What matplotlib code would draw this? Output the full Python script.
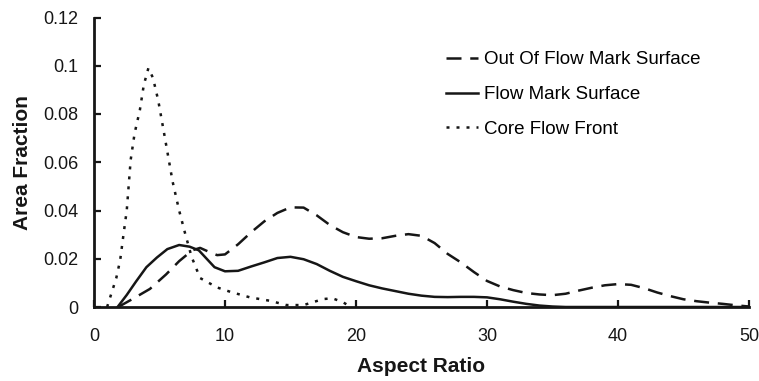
import matplotlib
matplotlib.use("Agg")
import matplotlib.pyplot as plt

plt.rcParams['font.family'] = ['Liberation Sans', 'DejaVu Sans']

# Out Of Flow Mark Surface (dashed)
out_x = [1.85, 3, 4.27, 5.5, 6.5, 7.5, 8.1, 8.8, 9.4, 10, 11, 12, 13, 14, 15, 16, 17, 18, 19,
         20, 21, 22, 23, 24, 25, 26, 27, 28, 29, 30, 31, 32, 33, 34, 35, 36, 37, 38, 39, 40,
         41, 42, 43, 44, 45, 46, 47, 48, 49, 50]
out_y = [0, 0.0035, 0.0075, 0.0135, 0.019, 0.0235, 0.0245, 0.0228, 0.0215, 0.0218, 0.026,
         0.031, 0.0355, 0.039, 0.0413, 0.0412, 0.038, 0.034, 0.031, 0.029, 0.0283, 0.0285,
         0.0295, 0.0302, 0.0295, 0.0265, 0.022, 0.0185, 0.0145, 0.0108, 0.0085, 0.007,
         0.0058, 0.0052, 0.0049, 0.0055, 0.0068, 0.008, 0.009, 0.0095, 0.0092, 0.0078,
         0.006, 0.0045, 0.0032, 0.0024, 0.0018, 0.0013, 0.0007, 0.0002]

# Flow Mark Surface (solid)
flow_x = [1.8, 2.5, 3.2, 4.0, 4.8, 5.6, 6.5, 7.3, 8.0, 8.6, 9.2, 10, 11, 12, 13, 14, 15, 16,
          17, 18, 19, 20, 21, 22, 23, 24, 25, 26, 27, 28, 29, 30, 31, 32, 33, 34, 35, 36, 50]
flow_y = [0, 0.005, 0.0105, 0.0165, 0.0205, 0.024, 0.0257, 0.025, 0.0235, 0.02, 0.0165,
          0.0148, 0.015, 0.0168, 0.0185, 0.0203, 0.0208, 0.0198, 0.0178, 0.015, 0.0125,
          0.0107, 0.009, 0.0077, 0.0066, 0.0055, 0.0047, 0.0042, 0.0041, 0.0042, 0.0042,
          0.004, 0.0032, 0.0022, 0.0013, 0.0006, 0.0002, 0, 0]

# Core Flow Front (dotted)
core_x = [1.0, 1.35, 1.7, 2.0, 2.25, 2.5, 2.8, 3.1, 3.5, 3.8, 4.15, 4.5, 4.9, 5.4, 6.0, 6.5,
          6.95, 7.45, 8.1, 9.4, 10.4, 11.9, 13.4, 14.7, 16, 17.5, 18.2, 19, 19.6]
core_y = [0, 0.006, 0.012, 0.0195, 0.03, 0.04, 0.061, 0.072, 0.0816, 0.092, 0.099, 0.095,
          0.0857, 0.0705, 0.052, 0.04, 0.0306, 0.0208, 0.012, 0.0081, 0.0063, 0.004, 0.0026,
          0.0008, 0.0008, 0.0033, 0.0036, 0.002, 0]

x_ticks = [0, 10, 20, 30, 40, 50]
y_ticks = [0, 0.02, 0.04, 0.06, 0.08, 0.1, 0.12]
y_tick_labels = ["0", "0.02", "0.04", "0.06", "0.08", "0.1", "0.12"]

fig = plt.figure(figsize=(7.59, 3.81), dpi=100)
ax = fig.add_axes([94 / 759, 1 - 307 / 381, 655 / 759, 289.5 / 381])

col = '#161616'
ax.plot(out_x, out_y, color=col, lw=1.8, linestyle=(0, (6, 3.5)), label='Out Of Flow Mark Surface')
ax.plot(flow_x, flow_y, color=col, lw=1.8, label='Flow Mark Surface')
ax.plot(core_x, core_y, color=col, lw=1.8, linestyle=(0, (1.2, 2.8)), label='Core Flow Front')

ax.set_xlim(0, 50)
ax.set_ylim(0, 0.12)
ax.set_xticks(x_ticks)
ax.set_yticks(y_ticks)
ax.set_yticklabels(y_tick_labels)

for s in ['top', 'right']:
    ax.spines[s].set_visible(False)
for s in ['left', 'bottom']:
    ax.spines[s].set_linewidth(2)
    ax.spines[s].set_color(col)
ax.tick_params(direction='in', length=5, width=1.6, colors=col, labelsize=13)
ax.tick_params(axis='y', pad=11)
ax.tick_params(axis='x', pad=15)

ax.set_xlabel('Aspect Ratio', fontsize=15, fontweight='bold', color=col)
ax.set_ylabel('Area Fraction', fontsize=15, fontweight='bold', color=col)
ax.xaxis.set_label_coords(0.5, -0.174)
ax.yaxis.set_label_coords(-0.095, 0.5)

ax.legend(loc='upper left', bbox_to_anchor=(446 / 759, 1 - 51 / 381),
          bbox_transform=fig.transFigure, frameon=False, fontsize=13.5,
          borderaxespad=0, borderpad=0, handlelength=1.7, handletextpad=0.35,
          labelspacing=0.95)

fig.savefig('out.png', dpi=100)
